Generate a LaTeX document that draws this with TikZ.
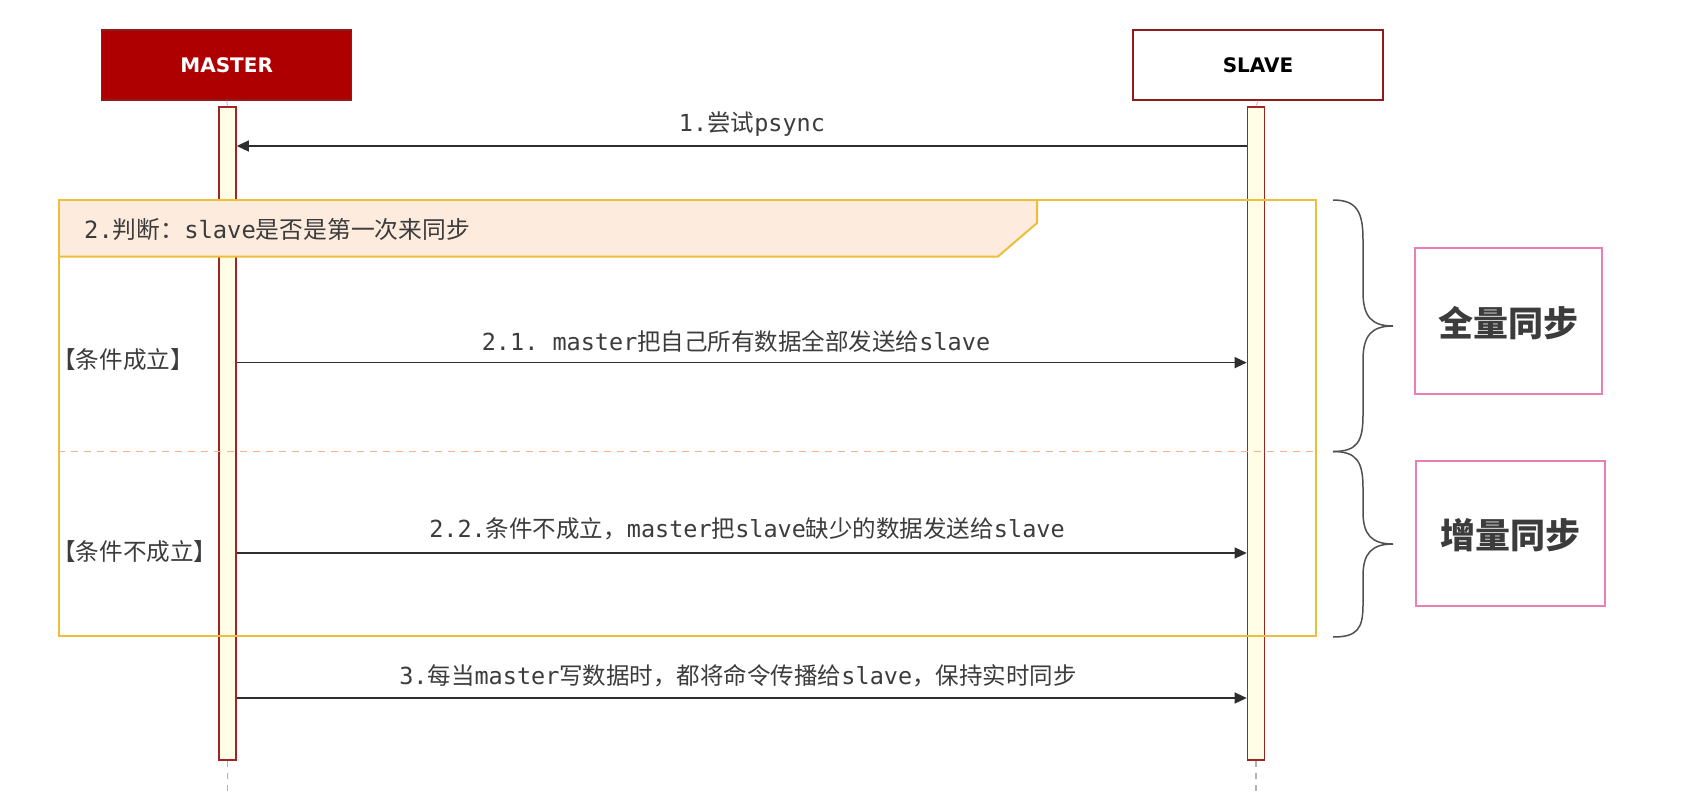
\documentclass[tikz,border=0pt]{standalone}
\usepackage{fontspec}
\setmainfont{Noto Sans CJK SC}
\setmonofont{DejaVu Sans Mono}
\newfontfamily\actorfont{DejaVu Sans}
\usetikzlibrary{arrows.meta}
\definecolor{mred}{HTML}{AE0000}
\definecolor{mredline}{HTML}{8E1C1C}
\definecolor{barfill}{HTML}{FFFDE6}
\definecolor{barline}{HTML}{A02424}
\definecolor{gold}{HTML}{EDBE3A}
\definecolor{hdrfill}{HTML}{FDEBDD}
\definecolor{sepc}{HTML}{F0B48E}
\definecolor{pinkc}{HTML}{E97FB5}
\definecolor{txt}{HTML}{3C3C3C}
\definecolor{msgc}{HTML}{2E2E2E}
\definecolor{bracec}{HTML}{505050}
\begin{document}
\begin{tikzpicture}[x=1pt,y=-1pt,
  actor/.style={draw=mredline,line width=1.5pt,minimum width=250pt,minimum height=70pt,inner sep=0pt,
    font=\actorfont\bfseries\fontsize{20}{24}\selectfont},
  lifebar/.style={draw=barline,fill=barfill,line width=1.6pt,minimum width=17pt,minimum height=653pt,inner sep=0pt},
  msg/.style={draw=msgc,line width=1.3pt,-{Triangle[length=12pt,width=11pt]}},
  lbl/.style={text=txt,inner sep=0pt,font=\fontsize{23.5}{28}\selectfont},
  cond/.style={text=txt,inner sep=0pt,anchor=west,font=\fontsize{23.6}{28}\selectfont},
  tag/.style={draw=pinkc,line width=2pt,inner sep=0pt,text=txt,font=\bfseries\fontsize{35}{42}\selectfont},
  bracestyle/.style={draw=bracec,line width=1.5pt},
  life/.style={draw=gray!60,line width=1.2pt,dashed,dash pattern=on 6pt off 6pt}
]
\useasboundingbox (0,0) rectangle (1697,793);
\fill[white] (0,0) rectangle (1697,793);

% actors
\node[actor,fill=mred,text=white] (master) at (226.7,65) {MASTER};
\node[actor,fill=white,text=black] (slave) at (1258,65) {SLAVE};

% lifeline bars
\node[lifebar] (mbar) at (227.5,433.5) {};
\node[lifebar] (sbar) at (1256,433.5) {};
\draw[draw=pinkc!60,line width=1pt] (master.south) -- (mbar.north);
\draw[draw=pinkc!60,line width=1pt] (slave.south) -- (sbar.north);
\coordinate (mend) at (227.5,793);
\coordinate (send) at (1256,793);
\draw[life] (mbar.south) -- (mend);
\draw[life] (sbar.south) -- (send);

% message 1
\node[lbl] (l1) at (752,124) {\texttt{1.}尝试\texttt{psync}};
\draw[msg] (sbar.west |- 0,146) -- (mbar.east |- 0,146);

% alt frame
\fill[hdrfill] (58.4,199) -- (1037,199) -- (1037,223) -- (998,256.5) -- (58.4,256.5) -- cycle;
\node[draw=gold,line width=2pt,minimum width=1256.6pt,minimum height=436.3pt,inner sep=0pt,anchor=north west] (alt) at (58.4,199) {};
\draw[draw=gold,line width=2pt] (1037,199) -- (1037,223) -- (998,256.5) -- (58.4,256.5);
\node[text=txt,inner sep=0pt,anchor=west,font=\fontsize{23.8}{28}\selectfont] (hdr) at (84,229.5) {\texttt{2.}判断：\texttt{slave}是否是第一次来同步};
\draw[draw=sepc,line width=1.2pt,dash pattern=on 7pt off 6pt] (alt.west |- 0,451.3) -- (alt.east |- 0,451.3);

% conditions
\node[cond] (c1) at (52,360) {【条件成立】};
\node[cond] (c2) at (52,552) {【条件不成立】};

% message 2.1
\node[lbl] (l21) at (736,341) {\texttt{2.1. master}把自己所有数据全部发送给\texttt{slave}};
\draw[msg] (mbar.east |- 0,362.6) -- (sbar.west |- 0,362.6);

% message 2.2
\node[lbl] (l22) at (747,529) {\texttt{2.2.}条件不成立，\texttt{master}把\texttt{slave}缺少的数据发送给\texttt{slave}};
\draw[msg] (mbar.east |- 0,553) -- (sbar.west |- 0,553);

% message 3
\node[lbl] (l3) at (738,676) {\texttt{3.}每当\texttt{master}写数据时，都将命令传播给\texttt{slave}，保持实时同步};
\draw[msg] (mbar.east |- 0,698) -- (sbar.west |- 0,698);

% braces
\draw[bracestyle] (1333,200) .. controls (1357,200) and (1363,212) .. (1363,240) -- (1363,292)
  .. controls (1363,317) and (1372,326) .. (1393,326)
  .. controls (1372,326) and (1363,335) .. (1363,360) -- (1363,415)
  .. controls (1363,442) and (1357,451.5) .. (1333,451.5);
\draw[bracestyle] (1333,451.5) .. controls (1357,451.5) and (1363,462) .. (1363,488) -- (1363,512)
  .. controls (1363,535) and (1372,544) .. (1393,544)
  .. controls (1372,544) and (1363,553) .. (1363,576) -- (1363,605)
  .. controls (1363,629) and (1357,637) .. (1333,637);

% tags
\node[tag,minimum width=187pt,minimum height=146pt,text depth=-2pt] (full) at (1508.5,321) {全量同步};
\node[tag,minimum width=189pt,minimum height=145pt,text depth=-2pt] (incr) at (1510.5,533.5) {增量同步};
\end{tikzpicture}
\end{document}
